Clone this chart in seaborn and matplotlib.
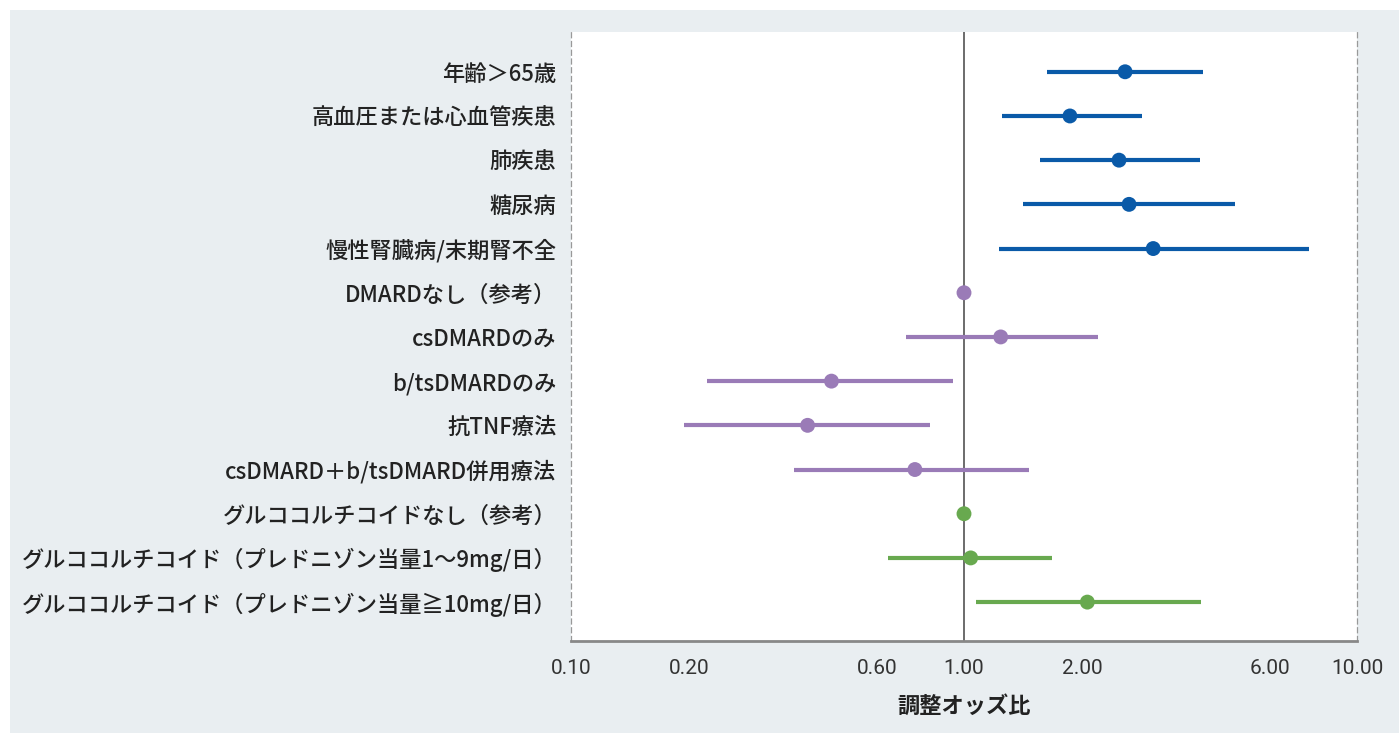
import numpy as np
import pandas as pd
import matplotlib
matplotlib.use("Agg")
import matplotlib.pyplot as plt
from matplotlib.patches import Rectangle
import seaborn as sns

labels = [
    "年齢＞65歳",
    "高血圧または心血管疾患",
    "肺疾患",
    "糖尿病",
    "慢性腎臓病/末期腎不全",
    "DMARDなし（参考）",
    "csDMARDのみ",
    "b/tsDMARDのみ",
    "抗TNF療法",
    "csDMARD＋b/tsDMARD併用療法",
    "グルココルチコイドなし（参考）",
    "グルココルチコイド（プレドニゾン当量1～9mg/日）",
    "グルココルチコイド（プレドニゾン当量≧10mg/日）",
]
odds = [2.57, 1.86, 2.48, 2.63, 3.03, 1.00, 1.24, 0.46, 0.40, 0.75, 1.00, 1.04, 2.06]
lower = [1.63, 1.25, 1.56, 1.41, 1.23, 1.00, 0.71, 0.222, 0.194, 0.37, 1.00, 0.64, 1.07]
upper = [4.06, 2.84, 3.99, 4.90, 7.55, 1.00, 2.19, 0.94, 0.82, 1.46, 1.00, 1.67, 4.01]
groups = ["comorb"] * 5 + ["dmard"] * 5 + ["gc"] * 3
xticks = [0.10, 0.20, 0.60, 1.00, 2.00, 6.00, 10.00]
xticklabels = ["0.10", "0.20", "0.60", "1.00", "2.00", "6.00", "10.00"]
xlabel = "調整オッズ比"

palette = {"comorb": "#0a5aa8", "dmard": "#9a7bb7", "gc": "#68a94f"}

df = pd.DataFrame({"label": labels, "or": odds, "lo": lower, "hi": upper, "group": groups})
df["pos"] = np.arange(len(df))

sns.set_style("white")
plt.rcParams["font.family"] = ["Noto Sans CJK JP", "DejaVu Sans"]

fig = plt.figure(figsize=(13.99, 7.33), dpi=100, facecolor="white")
bg = Rectangle((10 / 1399, 0), 1 - 10 / 1399, 1 - 10 / 733,
               transform=fig.transFigure, facecolor="#e9eef1",
               edgecolor="none", zorder=-10)
fig.add_artist(bg)
ax = fig.add_axes([571 / 1399, 1 - 641 / 733, (1357 - 571) / 1399, (641 - 32) / 733])
ax.set_zorder(1)
ax.set_facecolor("white")
ax.set_xscale("log")
ax.set_xlim(0.1, 10)
ax.set_ylim(12.88, -0.9)

ax.axvline(1.0, color="#444444", lw=1.1, zorder=1)

for _, r in df.iterrows():
    ax.hlines(r["pos"], r["lo"], r["hi"], color=palette[r["group"]], lw=3.0, zorder=2)

sns.scatterplot(data=df, x="or", y="pos", hue="group", palette=palette, s=115,
                edgecolor="none", legend=False, ax=ax, zorder=3)

ax.set_yticks(df["pos"])
ax.set_yticklabels(labels, fontsize=16, color="#222222", fontweight="medium")
ax.tick_params(axis="y", length=0, pad=10.5)

ax.set_xticks(xticks)
ax.set_xticklabels(xticklabels, color="#333333")
ax.xaxis.set_minor_locator(matplotlib.ticker.NullLocator())
ax.tick_params(axis="x", direction="out", length=11, width=1.0, color="#777777", pad=2)
for t in ax.get_xticklabels():
    t.set_fontfamily(["Liberation Sans Narrow", "Roboto", "DejaVu Sans"])
    t.set_fontsize(15)

ax.set_xlabel(xlabel, fontsize=16, color="#222222", labelpad=12, fontweight="bold")
ax.set_ylabel("")

ax.spines["top"].set_visible(False)
ax.spines["bottom"].set_color("#888888")
ax.spines["bottom"].set_linewidth(2.0)
for s in ("left", "right"):
    ax.spines[s].set_color("#999999")
    ax.spines[s].set_linestyle((0, (4, 3)))
    ax.spines[s].set_linewidth(0.9)

fig.savefig("out.png", dpi=100, facecolor="white")
